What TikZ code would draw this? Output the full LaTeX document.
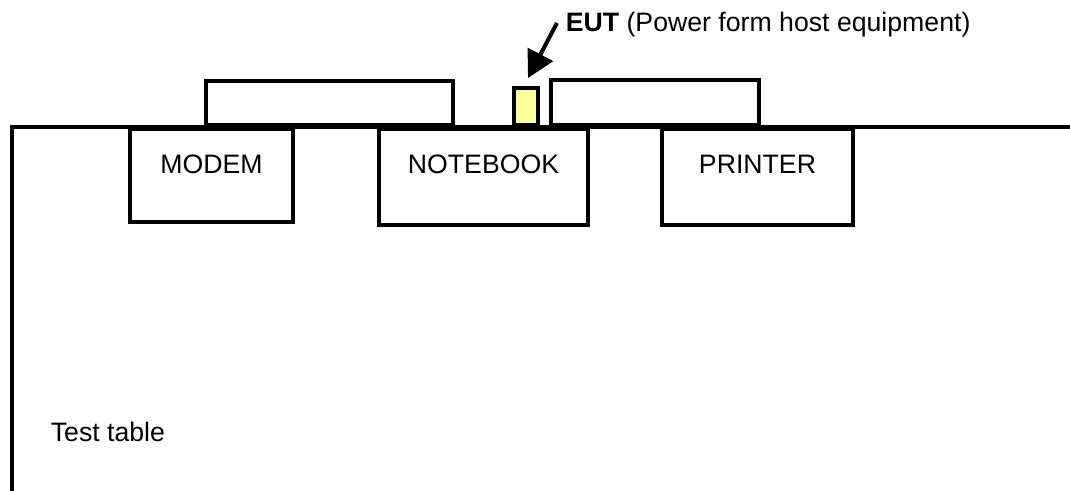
\documentclass[tikz,border=0pt]{standalone}
\usepackage{fontspec}
\setmainfont{Liberation Sans}
\usepackage{tikz}
\usetikzlibrary{arrows.meta,positioning}
\definecolor{eutyellow}{RGB}{255,255,153}
\tikzset{
  bench/.style={x=0.75pt,y=-0.75pt,line width=2.8pt,
    every node/.style={inner sep=0pt,font=\fontsize{20pt}{24pt}\selectfont}},
  devbox/.style={draw,line width=2.8pt,fill=white,anchor=north,text height=33.75pt},
  backbox/.style={draw,line width=2.8pt,fill=white,anchor=south},
  eutbox/.style={draw,line width=2.8pt,fill=eutyellow,anchor=south},
  arr/.style={-{Triangle[length=20pt,width=21pt]},line width=3pt}}

\begin{document}
\begin{tikzpicture}[bench]
  \useasboundingbox (0,0) rectangle (1070,490);
  \coordinate (tblbase) at (12,492);
  \coordinate (tblcorner) at (12,127);
  \coordinate (tblend) at (1072,127);
  \draw[line join=miter] (tblbase) -- (tblcorner) -- (tblend);
  \node[backbox,minimum width=185.25pt,minimum height=33pt] (back1) at (329.5,127) {};
  \node[backbox,minimum width=156pt,minimum height=33.75pt] (back2) at (655,127) {};
  \node[eutbox,minimum width=18pt,minimum height=27.75pt] (eut) at (526,127) {};
  \node[devbox,minimum width=122.25pt,text depth=36pt] (modem) at (211.5,127) {MODEM};
  \node[devbox,minimum width=156.75pt,text depth=38.25pt] (notebook) at (483.5,127) {NOTEBOOK};
  \node[devbox,minimum width=143.25pt,text depth=38.25pt] (printer) at (757.5,127) {PRINTER};
  \node[anchor=west] (eutlabel) at (564,25) {\textbf{EUT} (Power form host equipment)};
  \coordinate (euttip) at (528,78);
  \draw[arr] ([shift={(-7,-2)}]eutlabel.west) -- (euttip);
  \node[anchor=west] (tablelabel) at (49,432) {Test table};
\end{tikzpicture}
\end{document}
